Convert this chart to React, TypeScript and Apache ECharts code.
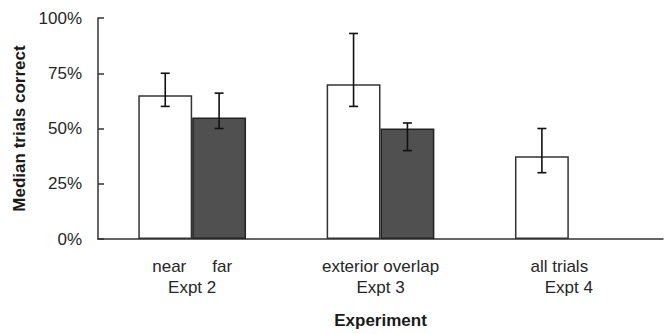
import React, { useEffect, useRef } from "react";
import * as echarts from "echarts";

const experiments = ["Expt 2", "Expt 3", "Expt 4"];
const conditionLabels = [["near", "far"], ["exterior overlap"], ["all trials"]];
const firstValues = [65, 70, 37.5];
const secondValues: (number | null)[] = [55, 50, null];
const firstErrLow = [60, 60, 30];
const firstErrHigh = [75, 93, 50];
const secondErrLow: (number | null)[] = [50, 40, null];
const secondErrHigh: (number | null)[] = [66, 52.5, null];
const yTicks = [0, 25, 50, 75, 100];

const BAR_FRAC = 0.286;

function errorSeries(low: (number | null)[], high: (number | null)[], side: number) {
  const data: any[] = [];
  low.forEach((l, i) => {
    const h = high[i];
    if (l != null && h != null) data.push([i, l, h]);
  });
  return {
    type: "custom",
    z: 10,
    data,
    renderItem: (params: any, api: any) => {
      const band = api.size([1, 0])[0];
      const off = side * band * BAR_FRAC / 2;
      const lo = api.coord([api.value(0), api.value(1)]);
      const hi = api.coord([api.value(0), api.value(2)]);
      const x = lo[0] + off;
      const cap = 4.5;
      const style = { stroke: "#111", lineWidth: 1.6, fill: "none" };
      return {
        type: "group",
        children: [
          { type: "line", shape: { x1: x, y1: lo[1], x2: x, y2: hi[1] }, style },
          { type: "line", shape: { x1: x - cap, y1: lo[1], x2: x + cap, y2: lo[1] }, style },
          { type: "line", shape: { x1: x - cap, y1: hi[1], x2: x + cap, y2: hi[1] }, style },
        ],
      };
    },
  };
}

export default function App() {
  const ref = useRef<HTMLDivElement>(null);
  useEffect(() => {
    if (!ref.current) return;
    document.body.style.margin = "0";
    const chart = echarts.init(ref.current, null, { renderer: "svg" });
    const font = "Liberation Sans, Arial, sans-serif";
    const rich: any = {
      a: { fontSize: 17, fontFamily: font, color: "#262626", lineHeight: 21 },
      sp: { width: 26, lineHeight: 21 },
      tr: { width: 19, lineHeight: 21 },
      e: { fontSize: 17, fontFamily: font, color: "#262626", lineHeight: 21 },
    };
    const labelFor = (idx: number) => {
      const parts = conditionLabels[idx];
      let top = parts.map((p) => `{a|${p}}`).join("{sp|}");
      if (idx === 2) top += "{tr|}";
      return `${top}\n{e|${experiments[idx]}}`;
    };
    chart.setOption({
      animation: false,
      backgroundColor: "#fff",
      grid: { left: 98, right: 5, top: 18, bottom: 90, containLabel: false },
      xAxis: {
        type: "category",
        data: experiments,
        name: "Experiment",
        nameLocation: "middle",
        nameGap: 73,
        nameTextStyle: { fontSize: 17, fontWeight: "bold", fontFamily: font, color: "#1a1a1a" },
        axisLine: { lineStyle: { color: "#333", width: 1.5 } },
        axisTick: { inside: true, length: 5, lineStyle: { color: "#333", width: 1.5 } },
        axisLabel: {
          margin: 17,
          formatter: (_v: string, idx: number) => labelFor(idx),
          rich,
        },
      },
      yAxis: {
        type: "value",
        min: 0,
        max: 100,
        interval: 25,
        name: "Median trials correct",
        nameLocation: "middle",
        nameGap: 69,
        nameTextStyle: { fontSize: 17, fontWeight: "bold", fontFamily: font, color: "#1a1a1a" },
        axisLine: { show: true, lineStyle: { color: "#333", width: 1.5 } },
        axisTick: { show: true, inside: true, length: 6, lineStyle: { color: "#333", width: 1.5 } },
        axisLabel: {
          margin: 16,
          fontSize: 17,
          fontFamily: font,
          color: "#262626",
          formatter: (v: number) => (yTicks.includes(v) ? `${v}%` : ""),
        },
        splitLine: { show: false },
      },
      series: [
        {
          type: "bar",
          data: firstValues,
          barWidth: `${BAR_FRAC * 100}%`,
          barGap: "0%",
          itemStyle: { color: "#fff", borderColor: "#333", borderWidth: 1.5 },
        },
        {
          type: "bar",
          data: secondValues,
          barWidth: `${BAR_FRAC * 100}%`,
          barGap: "0%",
          itemStyle: { color: "#505050", borderColor: "#222", borderWidth: 1.5 },
        },
        errorSeries(firstErrLow, firstErrHigh, -1),
        errorSeries(secondErrLow, secondErrHigh, 1),
      ],
    });
    return () => chart.dispose();
  }, []);
  return <div ref={ref} style={{ width: 668, height: 334 }} />;
}
